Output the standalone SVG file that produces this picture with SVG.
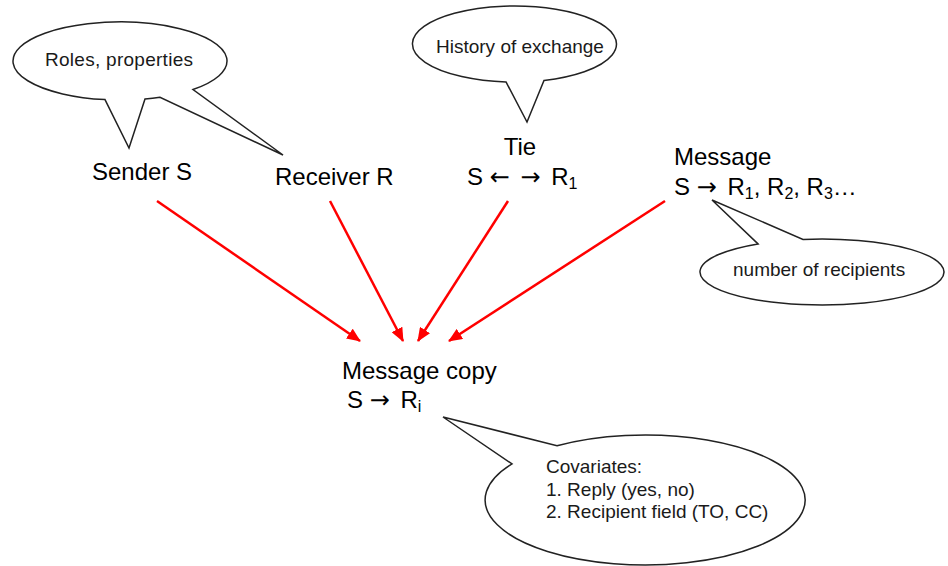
<svg xmlns="http://www.w3.org/2000/svg" width="948" height="566" viewBox="0 0 948 566">
<style>
.main{font-family:"Liberation Sans",Arial,sans-serif;font-size:24px;fill:#000}
.small{font-family:"Liberation Sans",Arial,sans-serif;font-size:19px;fill:#1a1a1a}
.sub{font-size:16px}
.ar{font-family:"DejaVu Sans",sans-serif;font-size:24px;letter-spacing:4px}
.balloon{fill:#fff;stroke:#222;stroke-width:1.5;stroke-linejoin:miter}
.arrow{stroke:#f00;stroke-width:2.5;fill:none;marker-end:url(#ah)}
</style>
<defs>
<marker id="ah" markerUnits="userSpaceOnUse" markerWidth="14" markerHeight="12" refX="13" refY="6" orient="auto">
<path d="M0,0 L14,6 L0,12 Z" fill="#f00"/>
</marker>
</defs>
<rect width="948" height="566" fill="#fff"/>
<g id="connectors">
<line class="arrow" x1="157" y1="201" x2="360" y2="341"/>
<line class="arrow" x1="330" y1="201" x2="403" y2="341"/>
<line class="arrow" x1="508" y1="201" x2="418" y2="341"/>
<line class="arrow" x1="665" y1="201" x2="449" y2="341"/>
</g>
<g id="callout-roles">
<path class="balloon" d="M105,99.6 L129,148 L145,98.9 A107,39 0 0 0 160,97.2 L283,155 L193,89.5 A107,39 0 1 0 105,99.6 Z"/>
<text class="small" x="45" y="66" textLength="148">Roles, properties</text>
</g>
<g id="callout-history">
<path class="balloon" d="M506,81.9 L527,122 L544,80.4 A102,38 0 1 0 506,81.9 Z"/>
<text class="small" x="436" y="53">History of exchange</text>
</g>
<g id="callout-recipients">
<path class="balloon" d="M758,243.9 L712,200 L803,239.4 A122,33 0 1 1 758,243.9 Z"/>
<text class="small" x="733" y="276">number of recipients</text>
</g>
<g id="callout-covariates">
<path class="balloon" d="M512,463.9 L443,417 L557,445.7 A160,65 0 1 1 512,463.9 Z"/>
<text class="small" x="546" y="473">Covariates:</text>
<text class="small" x="546" y="496">1. Reply (yes, no)</text>
<text class="small" x="546" y="518">2. Recipient field (TO, CC)</text>
</g>
<g id="sender">
<text class="main" x="92" y="180">Sender S</text>
</g>
<g id="receiver">
<text class="main" x="275" y="185">Receiver R</text>
</g>
<g id="tie">
<text class="main" x="520" y="155" text-anchor="middle">Tie</text>
<text class="main" x="467" y="185">S <tspan class="ar">←</tspan> <tspan class="ar">→</tspan> R<tspan class="sub" dy="4">1</tspan></text>
</g>
<g id="message">
<text class="main" x="674" y="165">Message</text>
<text class="main" x="674" y="195">S <tspan class="ar">→</tspan> R<tspan class="sub" dy="4">1</tspan><tspan dy="-4">, R</tspan><tspan class="sub" dy="4">2</tspan><tspan dy="-4">, R</tspan><tspan class="sub" dy="4">3</tspan><tspan dy="-4">…</tspan></text>
</g>
<g id="message-copy">
<text class="main" x="342" y="379">Message copy</text>
<text class="main" x="347" y="408">S <tspan class="ar">→</tspan> R<tspan class="sub" dy="4">i</tspan></text>
</g>
</svg>
